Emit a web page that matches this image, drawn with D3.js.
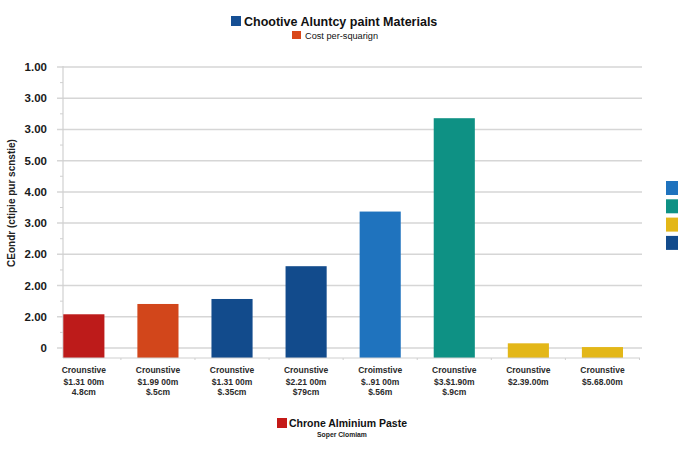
<!DOCTYPE html>
<html>
<head>
<meta charset="utf-8">
<script src="https://cdn.jsdelivr.net/npm/d3@7"></script>
<style>
  html, body { margin: 0; padding: 0; background: #ffffff; }
  svg { display: block; font-family: "Liberation Sans", Arial, sans-serif; }
</style>
</head>
<body>
<svg id="chart" width="682" height="452"></svg>
<script>
// ---- data ----
const categories = ["c1", "c2", "c3", "c4", "c5", "c6", "c7", "c8"];
const values = [1.08, 1.41, 1.57, 2.62, 4.37, 7.36, 0.15, 0.03];
const barColors = ["#bd1b1a", "#d2461b", "#124b8c", "#124b8c", "#1f73be", "#0e9184", "#e3b718", "#e3b718"];
const labelLine1 = ["Crounstive", "Crounstive", "Crounstive", "Crounstive", "Croimstive", "Crounstive", "Crounstive", "Crounstive"];
const labelLine2 = ["$1.31 00m", "$1.99 00m", "$1.31 00m", "$2.21 00m", "$..91 00m", "$3.$1.90m", "$2.39.00m", "$5.68.00m"];
const labelLine3 = ["4.8cm", "$.5cm", "$.35cm", "$79cm", "$.56m", "$.9cm", "", ""];
const tickValues = [0, 1, 2, 3, 4, 5, 6, 7, 8, 9];
const tickLabels = ["0", "2.00", "2.00", "2.00", "3.00", "4.00", "5.00", "3.00", "3.00", "1.00"];
const titleText = "Chootive Aluntcy paint Materials";
const subtitleText = "Cost per-squarign";
const yTitle = "CEondr (ctipie pur scnstie)";
const legendTitle = "Chrone Alminium Paste";
const legendSub = "Soper Clomiam";
const sideLegendColors = ["#1f73be", "#0e9184", "#e3b718", "#124b8c"];

// ---- layout ----
const svg = d3.select("#chart");
const axisX = 63, plotRight = 642, baseY = 358;

const y = d3.scaleLinear().domain([0, 9]).range([348, 67]);
const yBase = y.invert(baseY);
const x = d3.scaleBand().domain(categories).range([63.3, 623]).paddingInner(0.445).paddingOuter(0);

// gridlines
svg.append("g").selectAll("line").data(tickValues).join("line")
  .attr("x1", 57).attr("x2", plotRight)
  .attr("y1", d => y(d)).attr("y2", d => y(d))
  .attr("stroke", "#d6d6d6").attr("stroke-width", 1.5);

// minor ticks on y axis
const minor = d3.range(0, 9).map(d => d + 0.5);
svg.append("g").selectAll("line").data(minor).join("line")
  .attr("x1", 60).attr("x2", axisX)
  .attr("y1", d => y(d)).attr("y2", d => y(d))
  .attr("stroke", "#d0d0d0").attr("stroke-width", 1);

// y axis line
svg.append("line").attr("x1", axisX).attr("x2", axisX)
  .attr("y1", y(9) - 1).attr("y2", baseY)
  .attr("stroke", "#d0d0d0").attr("stroke-width", 1.2);

// y tick labels
svg.append("g").selectAll("text").data(tickValues).join("text")
  .attr("x", 47).attr("y", d => y(d)).attr("dy", "0.35em")
  .attr("text-anchor", "end")
  .attr("font-size", 11.5).attr("font-weight", "bold").attr("fill", "#1a1a1a")
  .text((d, i) => tickLabels[i]);

// bars
svg.append("g").selectAll("rect").data(categories).join("rect")
  .attr("x", d => x(d))
  .attr("width", x.bandwidth())
  .attr("y", (d, i) => y(values[i]))
  .attr("height", (d, i) => y(yBase) - y(values[i]))
  .attr("fill", (d, i) => barColors[i]);

// baseline
svg.append("line").attr("x1", axisX).attr("x2", 640)
  .attr("y1", baseY).attr("y2", baseY)
  .attr("stroke", "#cfcfcf").attr("stroke-width", 1.2);
// baseline ticks between bands
const bTicks = categories.map(c => x(c) + x.bandwidth() + x.step() * x.paddingInner() / 2);
svg.append("g").selectAll("line").data(bTicks).join("line")
  .attr("x1", d => d).attr("x2", d => d)
  .attr("y1", baseY).attr("y2", baseY + 2)
  .attr("stroke", "#cfcfcf");

// x labels
const xl = svg.append("g").selectAll("g").data(categories).join("g")
  .attr("transform", d => `translate(${x(d) + x.bandwidth() / 2},0)`);
xl.append("text").attr("y", 373).attr("text-anchor", "middle")
  .attr("font-size", 8.5).attr("font-weight", "bold").attr("fill", "#2a2a2a")
  .text((d, i) => labelLine1[i]);
xl.append("text").attr("y", 384.5).attr("text-anchor", "middle")
  .attr("font-size", 8.5).attr("font-weight", "bold").attr("fill", "#2a2a2a")
  .text((d, i) => labelLine2[i]);
xl.append("text").attr("y", 394.5).attr("text-anchor", "middle")
  .attr("font-size", 8.5).attr("font-weight", "bold").attr("fill", "#2a2a2a")
  .text((d, i) => labelLine3[i]);

// y title
svg.append("text")
  .attr("transform", "translate(14.5,203) rotate(-90)")
  .attr("text-anchor", "middle")
  .attr("font-size", 10).attr("font-weight", "bold").attr("fill", "#222")
  .text(yTitle);

// title
svg.append("rect").attr("x", 231).attr("y", 16).attr("width", 10).attr("height", 10).attr("fill", "#164f94");
svg.append("text").attr("x", 244).attr("y", 26)
  .attr("font-size", 12.5).attr("font-weight", "bold").attr("fill", "#111")
  .text(titleText);
svg.append("rect").attr("x", 292).attr("y", 31).attr("width", 9).attr("height", 8).attr("fill", "#d9481a");
svg.append("text").attr("x", 305).attr("y", 38.5)
  .attr("font-size", 9.2).attr("fill", "#111")
  .text(subtitleText);

// bottom legend
svg.append("rect").attr("x", 277).attr("y", 418).attr("width", 10).attr("height", 10).attr("fill", "#c41a17");
svg.append("text").attr("x", 289).attr("y", 427)
  .attr("font-size", 10.5).attr("font-weight", "bold").attr("fill", "#111")
  .text(legendTitle);
svg.append("text").attr("x", 342).attr("y", 437).attr("text-anchor", "middle")
  .attr("font-size", 6.8).attr("font-weight", "bold").attr("fill", "#222")
  .text(legendSub);

// side legend
svg.append("g").selectAll("rect").data(sideLegendColors).join("rect")
  .attr("x", 666).attr("y", (d, i) => 181 + i * 18.3)
  .attr("width", 12).attr("height", 14)
  .attr("fill", d => d);
</script>
</body>
</html>
